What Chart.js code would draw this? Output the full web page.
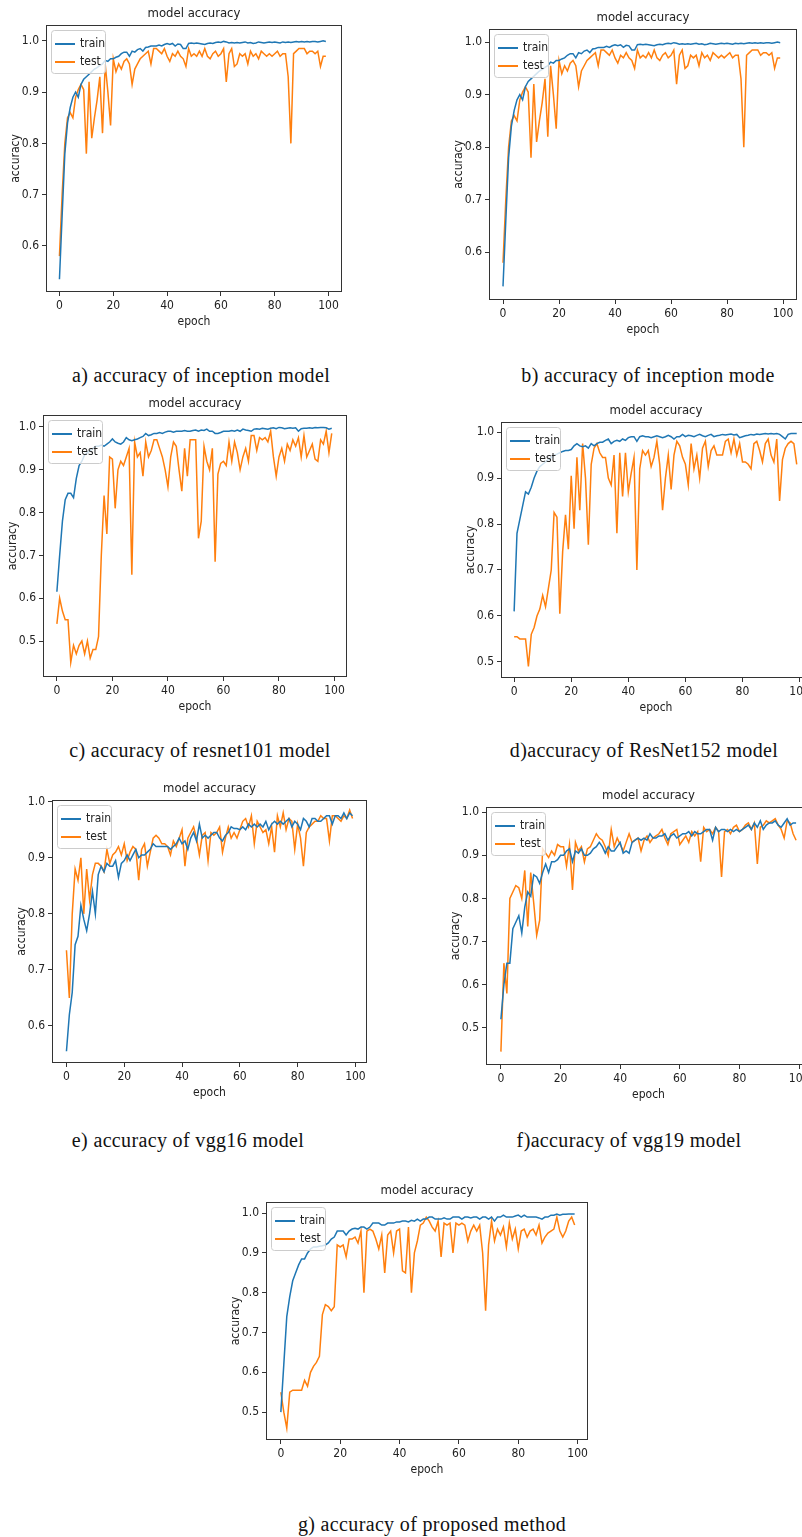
<!DOCTYPE html>
<html>
<head>
<meta charset="utf-8">
<title>model accuracy</title>
<script src="https://cdn.jsdelivr.net/npm/chart.js@4.4.1/dist/chart.umd.min.js"></script>
<style>
  body { margin: 0; width: 802px; height: 1537px; overflow: hidden; background: #fff; position: relative; }
  canvas.plot { position: absolute; }
  .cap {
    position: absolute;
    font-family: "Liberation Serif", "Times New Roman", serif;
    font-size: 20px;
    letter-spacing: 0.35px;
    color: #111;
    white-space: nowrap;
    transform: translateX(-50%);
  }
</style>
</head>
<body>
<div class="cap" style="left:201px; top:364px;">a) accuracy of inception model</div>
<div class="cap" style="left:648px; top:364px;">b) accuracy of inception mode</div>
<div class="cap" style="left:200px; top:739px;">c) accuracy of resnet101 model</div>
<div class="cap" style="left:644px; top:739px;">d)accuracy of ResNet152 model</div>
<div class="cap" style="left:188px; top:1129px;">e) accuracy of vgg16 model</div>
<div class="cap" style="left:629px; top:1129px;">f)accuracy of vgg19 model</div>
<div class="cap" style="left:432px; top:1513px;">g) accuracy of proposed method</div>

<script>
// Epochs (x categories)
const epochs = Array.from({ length: 100 }, (_, i) => i);
const xTicks = [0, 20, 40, 60, 80, 100];
const yTicks6 = [0.6, 0.7, 0.8, 0.9, 1.0];
const yTicks5 = [0.5, 0.6, 0.7, 0.8, 0.9, 1.0];

// Inception (a and b show the same run)
const trainInception = [
  0.535, 0.66, 0.78, 0.84, 0.87, 0.89, 0.90, 0.89, 0.915, 0.925,
  0.93, 0.935, 0.94, 0.945, 0.948, 0.952, 0.955, 0.962, 0.96, 0.965,
  0.965, 0.968, 0.97, 0.975, 0.978, 0.978, 0.97, 0.98, 0.978, 0.983,
  0.985, 0.98, 0.987, 0.988, 0.99, 0.99, 0.99, 0.992, 0.99, 0.993,
  0.995, 0.993, 0.995, 0.99, 0.994, 0.993, 0.985, 0.985, 0.995, 0.996,
  0.995, 0.996, 0.995, 0.994, 0.993, 0.995, 0.996, 0.995, 0.997, 0.998,
  0.997, 0.999, 0.998, 0.996, 0.997, 0.996, 0.997, 0.996, 0.997, 0.998,
  0.996, 0.997, 0.995, 0.996, 0.998, 0.997, 0.996, 0.997, 0.998, 0.997,
  0.998, 0.997, 0.996, 0.998, 0.997, 0.998, 0.997, 0.998, 0.999, 0.998,
  0.999, 0.998, 0.999, 0.998, 0.999, 0.999, 0.998, 0.999, 1.0, 0.999
];
const testInception = [
  0.58, 0.7, 0.8, 0.85, 0.86, 0.85, 0.89, 0.905, 0.915, 0.905,
  0.78, 0.92, 0.81, 0.85, 0.885, 0.93, 0.82, 0.955, 0.9, 0.835,
  0.965, 0.94, 0.955, 0.945, 0.96, 0.965, 0.955, 0.915, 0.945, 0.955,
  0.965, 0.97, 0.975, 0.98, 0.955, 0.985, 0.985, 0.98, 0.975, 0.985,
  0.97, 0.96, 0.975, 0.97, 0.98, 0.97, 0.965, 0.95, 0.985, 0.97,
  0.975, 0.97, 0.98, 0.97, 0.985, 0.97, 0.965, 0.975, 0.98, 0.97,
  0.975, 0.985, 0.92, 0.975, 0.985, 0.95, 0.955, 0.975, 0.97, 0.975,
  0.955, 0.98, 0.97, 0.975, 0.965, 0.98, 0.975, 0.97, 0.975, 0.97,
  0.975, 0.98, 0.97, 0.975, 0.975, 0.93, 0.8, 0.975, 0.98, 0.985,
  0.985, 0.985, 0.975, 0.98, 0.98, 0.975, 0.98, 0.95, 0.97, 0.97
];

// ResNet101
const trainResnet101 = [
  0.615, 0.7, 0.78, 0.83, 0.845, 0.845, 0.835, 0.88, 0.91, 0.92,
  0.935, 0.94, 0.945, 0.95, 0.955, 0.955, 0.958, 0.955, 0.96, 0.965,
  0.972, 0.965, 0.962, 0.96, 0.965, 0.975, 0.97, 0.968, 0.97, 0.972,
  0.975, 0.978, 0.985, 0.98, 0.982, 0.985, 0.985, 0.987, 0.985, 0.988,
  0.99, 0.99, 0.988, 0.99, 0.99, 0.99, 0.992, 0.99, 0.99, 0.992,
  0.993, 0.99, 0.993, 0.992, 0.995, 0.99, 0.99, 0.985, 0.985, 0.987,
  0.99, 0.99, 0.99, 0.992, 0.99, 0.993, 0.99, 0.995, 0.993, 0.992,
  0.99, 0.995, 0.996, 0.995, 0.997, 0.996, 0.995, 0.997, 0.998, 0.996,
  0.999, 0.998, 0.996, 0.997, 0.998, 0.997, 0.998, 0.99, 0.996, 0.997,
  0.997, 0.998, 0.997, 0.999, 0.998, 0.999, 0.999, 0.998, 0.995, 0.997
];
const testResnet101 = [
  0.54, 0.6, 0.57, 0.55, 0.55, 0.45, 0.49, 0.47, 0.49, 0.5,
  0.47, 0.5, 0.46, 0.48, 0.48, 0.51, 0.7, 0.84, 0.75, 0.93,
  0.925, 0.81, 0.9, 0.92, 0.91, 0.93, 0.95, 0.655, 0.965, 0.93,
  0.94, 0.885, 0.965, 0.93, 0.945, 0.97, 0.97, 0.95, 0.93, 0.9,
  0.86, 0.93, 0.965, 0.955, 0.9, 0.85, 0.95, 0.885, 0.97, 0.97,
  0.97, 0.74, 0.78, 0.955, 0.92, 0.9, 0.95, 0.685, 0.89, 0.915,
  0.92, 0.91, 0.965, 0.92, 0.965, 0.94, 0.9, 0.93, 0.95, 0.92,
  0.98, 0.98, 0.945, 0.975, 0.97, 0.975, 0.965, 0.99, 0.93, 0.885,
  0.93, 0.95, 0.92, 0.96, 0.945, 0.97, 0.955, 0.975, 0.93, 0.98,
  0.93, 0.945, 0.96, 0.925, 0.92, 0.97, 0.96, 0.99, 0.94, 0.985
];

// ResNet152
const trainResnet152 = [
  0.61, 0.78, 0.81, 0.84, 0.87, 0.865, 0.88, 0.9, 0.915, 0.925,
  0.93, 0.935, 0.94, 0.945, 0.95, 0.952, 0.955, 0.958, 0.96, 0.96,
  0.962, 0.97, 0.975, 0.97, 0.968, 0.97, 0.965, 0.975, 0.97, 0.975,
  0.978, 0.978, 0.982, 0.985, 0.975, 0.98, 0.982, 0.98, 0.985, 0.982,
  0.988, 0.99, 0.99, 0.98, 0.99, 0.992, 0.99, 0.99, 0.988, 0.99,
  0.992, 0.99, 0.988, 0.99, 0.993, 0.99, 0.985, 0.99, 0.99, 0.995,
  0.99, 0.993, 0.992, 0.99, 0.993, 0.995, 0.992, 0.99, 0.993, 0.995,
  0.99, 0.992, 0.993, 0.995, 0.994, 0.995, 0.996, 0.994, 0.995, 0.988,
  0.99, 0.992, 0.993, 0.995, 0.994, 0.996, 0.995, 0.996, 0.997, 0.996,
  0.997, 0.996, 0.997, 0.995, 0.99, 0.985, 0.995, 0.997, 0.997, 0.997
];
const testResnet152 = [
  0.555, 0.555, 0.55, 0.55, 0.55, 0.49, 0.56, 0.575, 0.6, 0.615,
  0.645, 0.62, 0.66, 0.7, 0.825, 0.815, 0.605, 0.74, 0.82, 0.745,
  0.905, 0.79, 0.945, 0.83, 0.975, 0.9, 0.755, 0.93, 0.965, 0.975,
  0.955, 0.945, 0.945, 0.9, 0.885, 0.95, 0.78, 0.955, 0.86, 0.955,
  0.87, 0.91, 0.945, 0.7, 0.92, 0.96, 0.95, 0.96, 0.925, 0.945,
  0.98, 0.93, 0.83, 0.9, 0.95, 0.875, 0.95, 0.98, 0.97, 0.945,
  0.93, 0.885, 0.975, 0.92, 0.95, 0.9, 0.965, 0.98, 0.925, 0.96,
  0.97, 0.95, 0.95, 0.95, 0.98, 0.985, 0.955, 0.985, 0.95, 0.975,
  0.935, 0.935, 0.93, 0.92, 0.975, 0.98, 0.96, 0.935, 0.975, 0.985,
  0.95, 0.935, 0.985, 0.85, 0.94, 0.965, 0.975, 0.98, 0.975, 0.93
];

// VGG16
const trainVgg16 = [
  0.555, 0.62, 0.66, 0.745, 0.76, 0.815, 0.79, 0.77, 0.8, 0.84,
  0.8, 0.87, 0.885, 0.875, 0.89, 0.885, 0.885, 0.895, 0.865, 0.89,
  0.895, 0.905, 0.895, 0.905, 0.915, 0.9, 0.905, 0.905, 0.91, 0.915,
  0.925, 0.92, 0.92, 0.92, 0.92, 0.92, 0.915, 0.92, 0.925, 0.935,
  0.925, 0.93, 0.915, 0.935, 0.945, 0.93, 0.96, 0.935, 0.94, 0.935,
  0.94, 0.945, 0.945, 0.935, 0.93, 0.94, 0.945, 0.955, 0.952, 0.952,
  0.95, 0.955, 0.95, 0.96, 0.955, 0.96, 0.955, 0.96, 0.955, 0.965,
  0.95, 0.96, 0.965, 0.96, 0.965, 0.96, 0.965, 0.97, 0.955, 0.965,
  0.96, 0.95, 0.97, 0.965, 0.955, 0.97, 0.97, 0.965, 0.965, 0.97,
  0.975, 0.975, 0.96, 0.975, 0.975, 0.97, 0.98, 0.97, 0.98, 0.975
];
const testVgg16 = [
  0.735, 0.65, 0.8, 0.88, 0.86, 0.9, 0.8, 0.88, 0.825, 0.87,
  0.89, 0.89, 0.885, 0.875, 0.915, 0.89, 0.905, 0.91, 0.92, 0.905,
  0.925, 0.895, 0.91, 0.92, 0.915, 0.86, 0.915, 0.925, 0.885, 0.91,
  0.935, 0.94, 0.935, 0.925, 0.925, 0.92, 0.905, 0.93, 0.92, 0.935,
  0.95, 0.885, 0.935, 0.945, 0.955, 0.935, 0.905, 0.94, 0.945, 0.895,
  0.945, 0.94, 0.945, 0.955, 0.91, 0.935, 0.955, 0.935, 0.945, 0.935,
  0.95, 0.965, 0.97, 0.955, 0.975, 0.925, 0.965, 0.955, 0.945, 0.95,
  0.925, 0.955, 0.91, 0.975, 0.955, 0.98, 0.95, 0.97, 0.965, 0.915,
  0.96, 0.935, 0.885, 0.945, 0.955, 0.96, 0.965, 0.965, 0.975, 0.97,
  0.97, 0.93, 0.975, 0.975, 0.97, 0.965, 0.975, 0.97, 0.985, 0.97
];

// VGG19
const trainVgg19 = [
  0.52, 0.6, 0.65, 0.65, 0.73, 0.745, 0.76, 0.72, 0.78, 0.815,
  0.805, 0.855, 0.85, 0.835, 0.86, 0.88, 0.86, 0.885, 0.885, 0.89,
  0.9, 0.9, 0.91, 0.915, 0.885, 0.91, 0.905, 0.915, 0.9, 0.9,
  0.905, 0.915, 0.92, 0.93, 0.92, 0.905, 0.92, 0.91, 0.91, 0.92,
  0.93, 0.905, 0.91, 0.905, 0.93, 0.935, 0.94, 0.935, 0.94, 0.935,
  0.95, 0.94, 0.94, 0.945, 0.945, 0.95, 0.935, 0.945, 0.95, 0.94,
  0.945, 0.95, 0.95, 0.955, 0.945, 0.955, 0.95, 0.95, 0.955, 0.96,
  0.96, 0.935, 0.965, 0.955, 0.96, 0.96, 0.955, 0.96, 0.955, 0.96,
  0.955, 0.96, 0.965, 0.97, 0.96, 0.975, 0.965, 0.98, 0.96, 0.97,
  0.975, 0.975, 0.98, 0.97, 0.965, 0.975, 0.985, 0.97, 0.975, 0.975
];
const testVgg19 = [
  0.445, 0.65, 0.58, 0.8, 0.815, 0.83, 0.825, 0.8, 0.865, 0.735,
  0.86, 0.79, 0.715, 0.75, 0.915, 0.905, 0.895, 0.91, 0.9, 0.925,
  0.92, 0.92, 0.875, 0.925, 0.82, 0.93, 0.91, 0.92, 0.885, 0.915,
  0.92, 0.935, 0.95, 0.94, 0.935, 0.92, 0.9, 0.96, 0.92, 0.94,
  0.925, 0.91, 0.93, 0.95, 0.93, 0.935, 0.94, 0.91, 0.935, 0.945,
  0.93, 0.94, 0.945, 0.95, 0.96, 0.94, 0.925, 0.95, 0.955, 0.96,
  0.925, 0.935, 0.945, 0.93, 0.955, 0.945, 0.955, 0.885, 0.965, 0.955,
  0.96, 0.95, 0.965, 0.955, 0.85, 0.955, 0.96, 0.95, 0.965, 0.97,
  0.955, 0.96, 0.97, 0.975, 0.96, 0.975, 0.88, 0.965, 0.97, 0.98,
  0.975, 0.98, 0.985, 0.97, 0.96, 0.94, 0.98, 0.975, 0.95, 0.935
];

// Proposed method
const trainProposed = [
  0.5, 0.62, 0.74, 0.79, 0.83, 0.85, 0.87, 0.885, 0.885, 0.9,
  0.91, 0.915, 0.915, 0.917, 0.918, 0.92, 0.925, 0.935, 0.94, 0.955,
  0.955, 0.955, 0.945, 0.955, 0.96, 0.962, 0.96, 0.965, 0.965, 0.96,
  0.965, 0.975, 0.975, 0.975, 0.97, 0.97, 0.975, 0.975, 0.975, 0.978,
  0.978, 0.98, 0.98, 0.978, 0.982, 0.98, 0.985, 0.98, 0.985, 0.985,
  0.99, 0.99, 0.985, 0.985, 0.985, 0.988, 0.985, 0.985, 0.99, 0.99,
  0.99, 0.985, 0.99, 0.99, 0.988, 0.99, 0.99, 0.985, 0.99, 0.99,
  0.985, 0.99, 0.98, 0.99, 0.99, 0.995, 0.99, 0.99, 0.99, 0.993,
  0.995, 0.99, 0.995, 0.99, 0.99, 0.99, 0.99, 0.988, 0.985, 0.99,
  0.99, 0.995, 0.995, 0.998, 0.995, 0.997, 0.997, 0.998, 0.998, 0.998
];
const testProposed = [
  0.55, 0.5, 0.46, 0.55, 0.555, 0.555, 0.555, 0.555, 0.58, 0.565,
  0.6, 0.615, 0.625, 0.64, 0.745, 0.77, 0.765, 0.755, 0.765, 0.92,
  0.915, 0.92, 0.89, 0.935, 0.935, 0.94, 0.925, 0.955, 0.8, 0.955,
  0.96, 0.955, 0.935, 0.91, 0.945, 0.85, 0.945, 0.955, 0.9, 0.955,
  0.96, 0.855, 0.85, 0.965, 0.8, 0.9, 0.93, 0.97, 0.975, 0.99,
  0.98, 0.965, 0.955, 0.98, 0.89, 0.975, 0.97, 0.975, 0.9, 0.975,
  0.97, 0.975, 0.97, 0.93, 0.955, 0.97, 0.955, 0.97, 0.9, 0.755,
  0.92, 0.98, 0.93, 0.96, 0.945, 0.965, 0.915, 0.975, 0.935, 0.96,
  0.91, 0.955, 0.96, 0.94, 0.955, 0.96, 0.945, 0.97, 0.925, 0.94,
  0.95, 0.955, 0.96, 0.99, 0.955, 0.94, 0.955, 0.98, 0.99, 0.97
];

const TRAIN_COLOR = "#1f77b4";
const TEST_COLOR = "#ff7f0e";
const INK = "#222";
const FONT = "'Liberation Sans Narrow', 'DejaVu Sans Condensed', 'DejaVu Sans', sans-serif";

Chart.defaults.font.family = FONT;
Chart.defaults.color = INK;

// Panel placement: plot area [left, top, right, bottom] in page pixels + axis ranges
const panels = [
  { area: [46, 25, 342, 292], x: [-5, 105], y: [0.51, 1.031], yTicks: yTicks6, train: trainInception, test: testInception },
  { area: [489, 29, 797, 300], x: [-5, 105], y: [0.509, 1.025], yTicks: yTicks6, train: trainInception, test: testInception },
  { area: [43, 415, 347, 677], x: [-5, 104.5], y: [0.416, 1.028], yTicks: yTicks5, train: trainResnet101, test: testResnet101 },
  { area: [501, 422, 811, 678], x: [-4.6, 104], y: [0.465, 1.022], yTicks: yTicks5, train: trainResnet152, test: testResnet152 },
  { area: [52, 800, 367, 1063], x: [-5, 104], y: [0.534, 1.003], yTicks: yTicks6, train: trainVgg16, test: testVgg16 },
  { area: [486, 807, 811, 1065], x: [-5, 104], y: [0.414, 1.012], yTicks: yTicks5, train: trainVgg19, test: testVgg19 },
  { area: [266, 1202, 588, 1440], x: [-5, 103.5], y: [0.43, 1.028], yTicks: yTicks5, train: trainProposed, test: testProposed }
];

const Y_W = 41;   // y axis block width (labels + title)
const X_H = 41;   // x axis block height
const TITLE_H = 21;
const PAD_R = 8;

// Matplotlib-style frame round the plot area
const framePlugin = {
  id: "frame",
  afterDraw(chart) {
    const { ctx, chartArea: a } = chart;
    ctx.save();
    ctx.strokeStyle = "#333";
    ctx.lineWidth = 1;
    ctx.strokeRect(a.left + 0.5, a.top + 0.5, a.width - 1, a.height - 1);
    ctx.restore();
  }
};

// Legend drawn inside the upper-left corner, above the lines
const insideLegend = {
  id: "insideLegend",
  afterDatasetsDraw(chart) {
    const { ctx, chartArea } = chart;
    const x = chartArea.left + 5, y = chartArea.top + 5;
    ctx.save();
    ctx.fillStyle = "rgba(255,255,255,0.8)";
    ctx.strokeStyle = "#cccccc";
    ctx.lineWidth = 1;
    ctx.beginPath();
    ctx.roundRect(x + 0.5, y + 0.5, 54, 43, 3);
    ctx.fill();
    ctx.stroke();
    ctx.font = "12px " + FONT;
    ctx.textBaseline = "middle";
    chart.data.datasets.forEach((ds, i) => {
      const ly = y + 14 + i * 18;
      ctx.strokeStyle = ds.borderColor;
      ctx.lineWidth = 2;
      ctx.beginPath();
      ctx.moveTo(x + 4, ly);
      ctx.lineTo(x + 24, ly);
      ctx.stroke();
      ctx.fillStyle = INK;
      ctx.fillText(ds.label, x + 29, ly);
    });
    ctx.restore();
  }
};

function axisStyle(ticks, fmt) {
  return {
    afterBuildTicks: s => { s.ticks = ticks.map(v => ({ value: v })); },
    grid: { drawOnChartArea: false, drawTicks: true, tickLength: 4, color: "#333" },
    border: { display: false },
    ticks: { color: INK, font: { size: 12 }, padding: 3, autoSkip: false, maxRotation: 0, callback: fmt }
  };
}

panels.forEach(p => {
  const [L, T, R, B] = p.area;
  const canvas = document.createElement("canvas");
  canvas.className = "plot";
  canvas.width = R - L + Y_W + PAD_R;
  canvas.height = B - T + TITLE_H + X_H;
  canvas.style.left = (L - Y_W) + "px";
  canvas.style.top = (T - TITLE_H) + "px";
  document.body.appendChild(canvas);

  const xAxis = axisStyle(xTicks, v => String(v));
  const yAxis = axisStyle(p.yTicks, v => Number(v).toFixed(1));

  new Chart(canvas, {
    type: "line",
    data: {
      labels: epochs,
      datasets: [
        { label: "train", data: p.train, borderColor: TRAIN_COLOR, borderWidth: 1.5, pointRadius: 0, tension: 0, fill: false },
        { label: "test", data: p.test, borderColor: TEST_COLOR, borderWidth: 1.5, pointRadius: 0, tension: 0, fill: false }
      ]
    },
    options: {
      responsive: false,
      animation: false,
      events: [],
      layout: { padding: { left: 0, top: 0, right: PAD_R, bottom: 0 } },
      plugins: {
        legend: { display: false },
        tooltip: { enabled: false },
        title: {
          display: true,
          text: "model accuracy",
          fullSize: false,
          color: INK,
          font: { size: 13, weight: "normal" },
          padding: { top: 2, bottom: 3.4 }
        }
      },
      scales: {
        x: {
          type: "linear",
          min: p.x[0],
          max: p.x[1],
          ...xAxis,
          afterFit: s => { s.height = X_H; },
          title: { display: true, text: "epoch", color: INK, font: { size: 12 } }
        },
        y: {
          type: "linear",
          min: p.y[0],
          max: p.y[1],
          ...yAxis,
          afterFit: s => { s.width = Y_W; },
          title: { display: true, text: "accuracy", color: INK, font: { size: 12 } }
        }
      }
    },
    plugins: [insideLegend, framePlugin]
  });
});
</script>
</body>
</html>
